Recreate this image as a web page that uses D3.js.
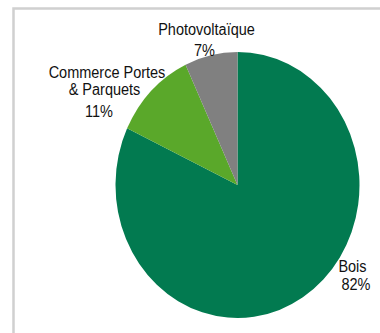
<!DOCTYPE html>
<html>
<head>
<meta charset="utf-8">
<script src="https://cdn.jsdelivr.net/npm/d3@7"></script>
<style>
  body { margin: 0; background: #fff; }
  svg { display: block; }
  .lbl { font-family: "Liberation Sans", Arial, sans-serif; font-size: 14.5px; fill: #111; }
</style>
</head>
<body>
<div id="chart"></div>
<script>
// donnees
const categories = ['Bois', 'Commerce Portes & Parquets', 'Photovoltaïque'];
const values = [82, 11, 7];
const labelLines = [['Bois'], ['Commerce Portes', '& Parquets'], ['Photovoltaïque']];

const colors = ['#027a50', '#5aa82a', '#808080'];

const width = 380, height = 333;
// le camembert est un peu etire en hauteur
const cx = 237.5, cy = 185, rx = 122, ry = 133;
const k = ry / rx;
const kText = 1.16;

// position des etiquettes (centre x, lignes de base) pour chaque ligne
const labelPos = [
    { x: [352.5, 356], y: [271.5, 290] },
    { x: [107, 104.5, 99], y: [78, 95, 116.5] },
    { x: [206.5, 204.5], y: [34.5, 55.5] }
];

const svg = d3.select('#chart')
    .append('svg')
    .attr('width', width)
    .attr('height', height);

// cadre gris
svg.append('rect')
    .attr('x', 13.5)
    .attr('y', 8.5)
    .attr('width', 500)
    .attr('height', 500)
    .attr('fill', 'none')
    .attr('stroke', '#d0d0d0')
    .attr('stroke-width', 2.5);

const data = categories.map((c, i) => ({ name: c, value: values[i], lines: labelLines[i] }));

const pie = d3.pie()
    .value(d => d.value)
    .sort(null);

const arc = d3.arc()
    .innerRadius(0)
    .outerRadius(rx);

const g = svg.append('g')
    .attr('transform', `translate(${cx}, ${cy}) scale(1, ${k})`);

g.selectAll('path')
    .data(pie(data))
    .enter().append('path')
    .attr('d', arc)
    .attr('fill', (d, i) => colors[i]);

// etiquettes
data.forEach((d, i) => {
    const lines = d.lines.concat([d.value + '%']);
    lines.forEach((t, j) => {
        svg.append('text')
            .attr('class', 'lbl')
            .attr('text-anchor', 'middle')
            .attr('transform', `translate(${labelPos[i].x[j]}, ${labelPos[i].y[j]}) scale(1, ${kText})`)
            .text(t);
    });
});
</script>
</body>
</html>
